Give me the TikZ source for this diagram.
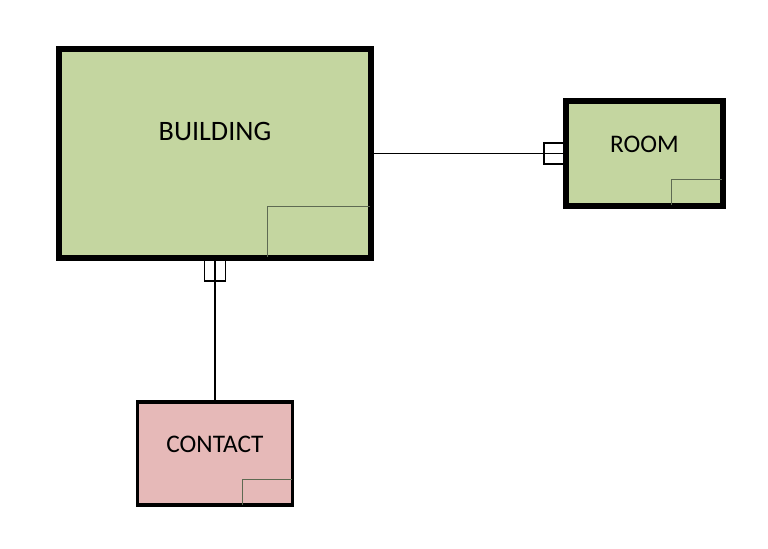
\documentclass[tikz,border=0pt]{standalone}
\usepackage{fontspec}
\setmainfont{Carlito}
\usetikzlibrary{positioning,calc}
\definecolor{entgreen}{HTML}{C4D6A0}
\definecolor{entpink}{HTML}{E6B9B8}
\definecolor{cornergray}{HTML}{5E6A52}
\tikzset{
  entity/.style={draw=black, line width=2.1pt, rectangle, inner sep=0pt},
  corner/.style={draw=cornergray, line width=0.6pt},
  keybox/.style={draw=black, line width=0.8pt, fill=white},
  link/.style={draw=black, line width=0.8pt}
}
\begin{document}
\begin{tikzpicture}[line join=miter]
        \useasboundingbox (0,0) rectangle (15.36,-10.96);
        %Thuc the
        \node[entity, fill=entgreen, minimum width=6.2cm, minimum height=4.14cm] (building) at (4.3,-3.07) {};
        \node[entity, fill=entgreen, minimum width=3.1cm, minimum height=2.06cm] (room) at (12.89,-3.07) {};
        \node[entity, fill=entpink, minimum width=3.1cm, minimum height=2.06cm] (contact) at (4.3,-9.07) {};
        %Nhan
        \node[font=\fontsize{16}{19}\selectfont] (building-txt) at (4.3,-2.62) {BUILDING};
        \node[font=\fontsize{14.4}{17}\selectfont] (room-txt) at (12.89,-2.88) {ROOM};
        \node[font=\fontsize{14.4}{17}\selectfont] (contact-txt) at (4.3,-8.88) {CONTACT};
        %Goc
        \draw[corner] ($(building.south east)+(-0.04,0.04)$) ++(-2.04,0) |- ++(2.04,1.0);
        \draw[corner] ($(room.south east)+(-0.04,0.04)$) ++(-1.0,0) |- ++(1.0,0.5);
        \draw[corner] ($(contact.south east)+(-0.04,0.04)$) ++(-1.0,0) |- ++(1.0,0.5);
        %Lien ket
        \coordinate (b-east) at (building.east);
        \coordinate (r-west) at (room.west);
        \coordinate (b-south) at (building.south);
        \coordinate (c-north) at (contact.north);
        \path[keybox] ($(r-west)+(-0.42,0.21)$) rectangle ($(r-west)+(0,-0.21)$);
        \path[keybox] ($(b-south)+(-0.21,0)$) rectangle ($(b-south)+(0.21,-0.44)$);
        \draw[link] (b-east) -- (r-west);
        \draw[link] (b-south) -- (c-north);
        %Ve lai vien
        \draw[entity] (room.south west) rectangle (room.north east);
        \draw[entity] (building.south west) rectangle (building.north east);
\end{tikzpicture}
\end{document}
